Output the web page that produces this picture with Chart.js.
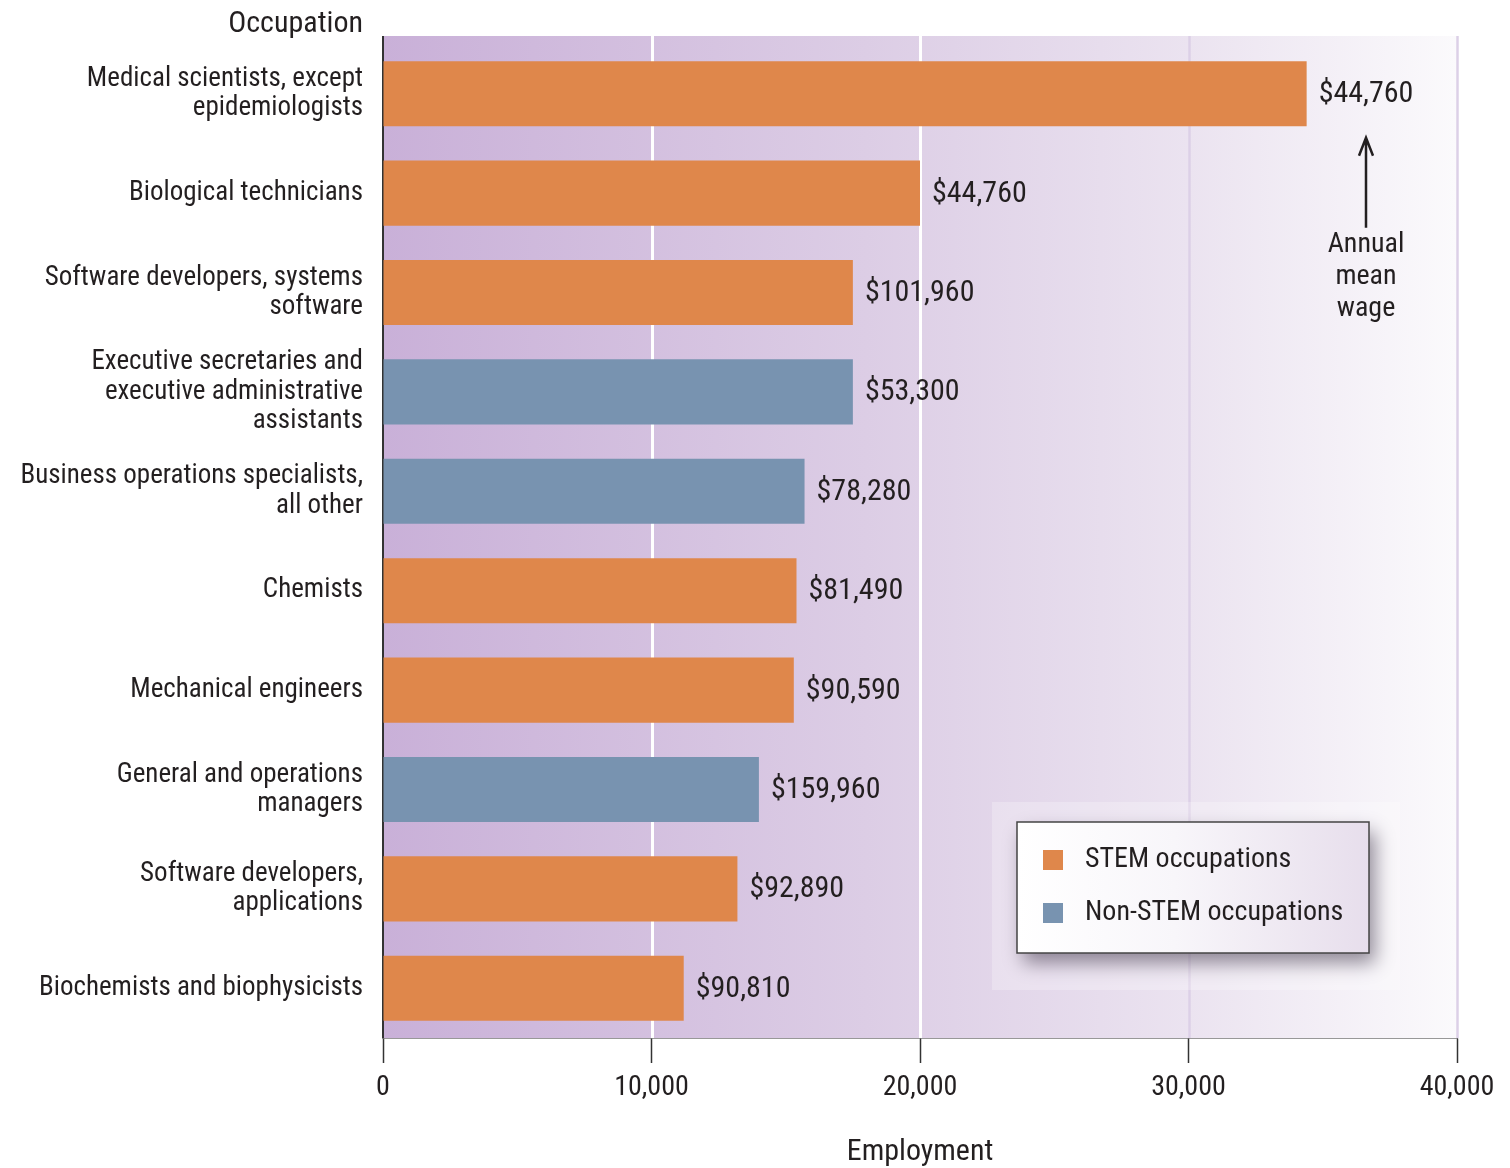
<!DOCTYPE html>
<html>
<head>
<meta charset="utf-8">
<script src="https://cdn.jsdelivr.net/npm/chart.js@4.4.1/dist/chart.umd.min.js"></script>
<style>
  body { margin: 0; background: #fff; }
  canvas { display: block; }
</style>
</head>
<body>
<canvas id="chart" width="1510" height="1168"></canvas>
<script>
const occupations = [
  ["Medical scientists, except", "epidemiologists"],
  "Biological technicians",
  ["Software developers, systems", "software"],
  ["Executive secretaries and", "executive administrative", "assistants"],
  ["Business operations specialists,", "all other"],
  "Chemists",
  "Mechanical engineers",
  ["General and operations", "managers"],
  ["Software developers,", "applications"],
  "Biochemists and biophysicists",
];
const employment = [34400, 20000, 17500, 17500, 15700, 15400, 15300, 14000, 13200, 11200];
const wages = ["$44,760", "$44,760", "$101,960", "$53,300", "$78,280", "$81,490", "$90,590", "$159,960", "$92,890", "$90,810"];
const isStem = [true, true, true, false, false, true, true, false, true, true];
const xTicks = [0, 10000, 20000, 30000, 40000];

const FONT = "'Roboto Condensed', 'DejaVu Sans Condensed', sans-serif";
const INK = "#231f20";
const ORANGE = "#df874b";
const BLUE = "#7893b0";
const PLOT_TOP = 36;

const stemValues = employment.map((v, i) => (isStem[i] ? v : null));
const otherValues = employment.map((v, i) => (isStem[i] ? null : v));

// purple-to-white wash, grid lines and left axis line behind the bars
const backdrop = {
  id: "backdrop",
  beforeDatasetsDraw(chart) {
    const { ctx, chartArea: a, scales } = chart;
    const g = ctx.createLinearGradient(a.left, 0, a.right, 0);
    g.addColorStop(0, "#c9b0d8");
    g.addColorStop(0.45, "#dccde5");
    g.addColorStop(0.75, "#ebe3f0");
    g.addColorStop(1, "#fbfafc");
    ctx.save();
    ctx.fillStyle = g;
    ctx.fillRect(a.left, PLOT_TOP, a.right - a.left, a.bottom - PLOT_TOP);

    xTicks.forEach((v, i) => {
      if (i === 0) return;
      const x = Math.round(scales.x.getPixelForValue(v)) + 0.5;
      ctx.strokeStyle = i <= 2 ? "#ffffff" : "#dcd0e7";
      ctx.lineWidth = i <= 2 ? 3 : 2.5;
      ctx.beginPath();
      ctx.moveTo(x, PLOT_TOP);
      ctx.lineTo(x, a.bottom);
      ctx.stroke();
    });

    ctx.strokeStyle = "#333";
    ctx.lineWidth = 2;
    ctx.beginPath();
    ctx.moveTo(a.left, PLOT_TOP);
    ctx.lineTo(a.left, a.bottom);
    ctx.stroke();
    ctx.restore();
  },
};

// wage labels, annotation, titles and the boxed legend
const extras = {
  id: "extras",
  afterDraw(chart) {
    const { ctx, chartArea: a } = chart;
    ctx.save();
    ctx.font = "30px " + FONT;
    ctx.fillStyle = INK;
    ctx.textBaseline = "middle";
    ctx.textAlign = "left";

    let first = null;
    chart.data.datasets.forEach((ds, di) => {
      chart.getDatasetMeta(di).data.forEach((bar, i) => {
        if (ds.data[i] == null) return;
        const x = bar.x + 12;
        ctx.fillText(wages[i], x, bar.y + 1);
        if (i === 0) first = { x: x + ctx.measureText(wages[i]).width / 2, y: bar.y };
      });
    });

    ctx.textAlign = "right";
    ctx.fillText("Occupation", a.left - 20, 24);
    ctx.textAlign = "center";
    ctx.fillText("Employment", (a.left + a.right) / 2, 1152);

    // "Annual mean wage" pointer under the top label
    if (first) {
      const cx = Math.round(first.x);
      ctx.strokeStyle = INK;
      ctx.lineWidth = 2.5;
      ctx.beginPath();
      ctx.moveTo(cx, first.y + 134);
      ctx.lineTo(cx, first.y + 46);
      ctx.moveTo(cx - 7, first.y + 62);
      ctx.lineTo(cx, first.y + 44);
      ctx.lineTo(cx + 7, first.y + 62);
      ctx.stroke();
      ctx.font = "28px " + FONT;
      ["Annual", "mean", "wage"].forEach((t, k) => ctx.fillText(t, cx, first.y + 151 + k * 32));
    }

    // legend
    const bx = 1017, by = 822, bw = 352, bh = 131;
    ctx.fillStyle = "rgba(255,255,255,0.25)";
    ctx.fillRect(bx - 25, by - 20, bw + 56, bh + 57);
    ctx.save();
    ctx.shadowColor = "rgba(60,50,70,0.55)";
    ctx.shadowBlur = 18;
    ctx.shadowOffsetX = 6;
    ctx.shadowOffsetY = 10;
    const lg = ctx.createLinearGradient(bx, 0, bx + bw, 0);
    lg.addColorStop(0, "#ffffff");
    lg.addColorStop(0.45, "#f8f6fa");
    lg.addColorStop(1, "#e7deec");
    ctx.fillStyle = lg;
    ctx.fillRect(bx, by, bw, bh);
    ctx.restore();
    ctx.strokeStyle = "#444";
    ctx.lineWidth = 1.5;
    ctx.strokeRect(bx, by, bw, bh);

    ctx.font = "28px " + FONT;
    ctx.textAlign = "left";
    chart.data.datasets.forEach((ds, di) => {
      const y = by + 38 + di * 53;
      ctx.fillStyle = ds.backgroundColor;
      ctx.fillRect(bx + 26, y - 10, 20, 20);
      ctx.fillStyle = INK;
      ctx.fillText(ds.label, bx + 68, y);
    });
    ctx.restore();
  },
};

new Chart(document.getElementById("chart"), {
  type: "bar",
  data: {
    labels: occupations,
    datasets: [
      { label: "STEM occupations", data: stemValues, backgroundColor: ORANGE },
      { label: "Non-STEM occupations", data: otherValues, backgroundColor: BLUE },
    ],
  },
  options: {
    indexAxis: "y",
    responsive: false,
    animation: false,
    grouped: false,
    barPercentage: 0.655,
    categoryPercentage: 1,
    layout: { padding: { top: 44, right: 53 } },
    plugins: {
      legend: { display: false },
      tooltip: { enabled: false },
    },
    scales: {
      x: {
        min: 0,
        max: 40000,
        afterBuildTicks(scale) {
          scale.ticks = xTicks.map((v) => ({ value: v }));
        },
        afterFit(scale) {
          scale.height = 130;
        },
        ticks: {
          color: INK,
          font: { family: FONT, size: 28 },
          padding: 8,
          maxRotation: 0,
          callback: (v) => v.toLocaleString("en-US"),
        },
        grid: {
          drawOnChartArea: false,
          tickColor: "#333",
          tickLength: 25,
          tickWidth: 1.5,
        },
        border: { display: true, color: "#333", width: 1.5 },
      },
      y: {
        afterFit(scale) {
          scale.width = 383;
        },
        ticks: {
          color: INK,
          font: { family: FONT, size: 27, lineHeight: 1.08 },
          padding: 20,
        },
        grid: { display: false, drawTicks: false },
        border: { display: false },
      },
    },
  },
  plugins: [backdrop, extras],
});
</script>
</body>
</html>
